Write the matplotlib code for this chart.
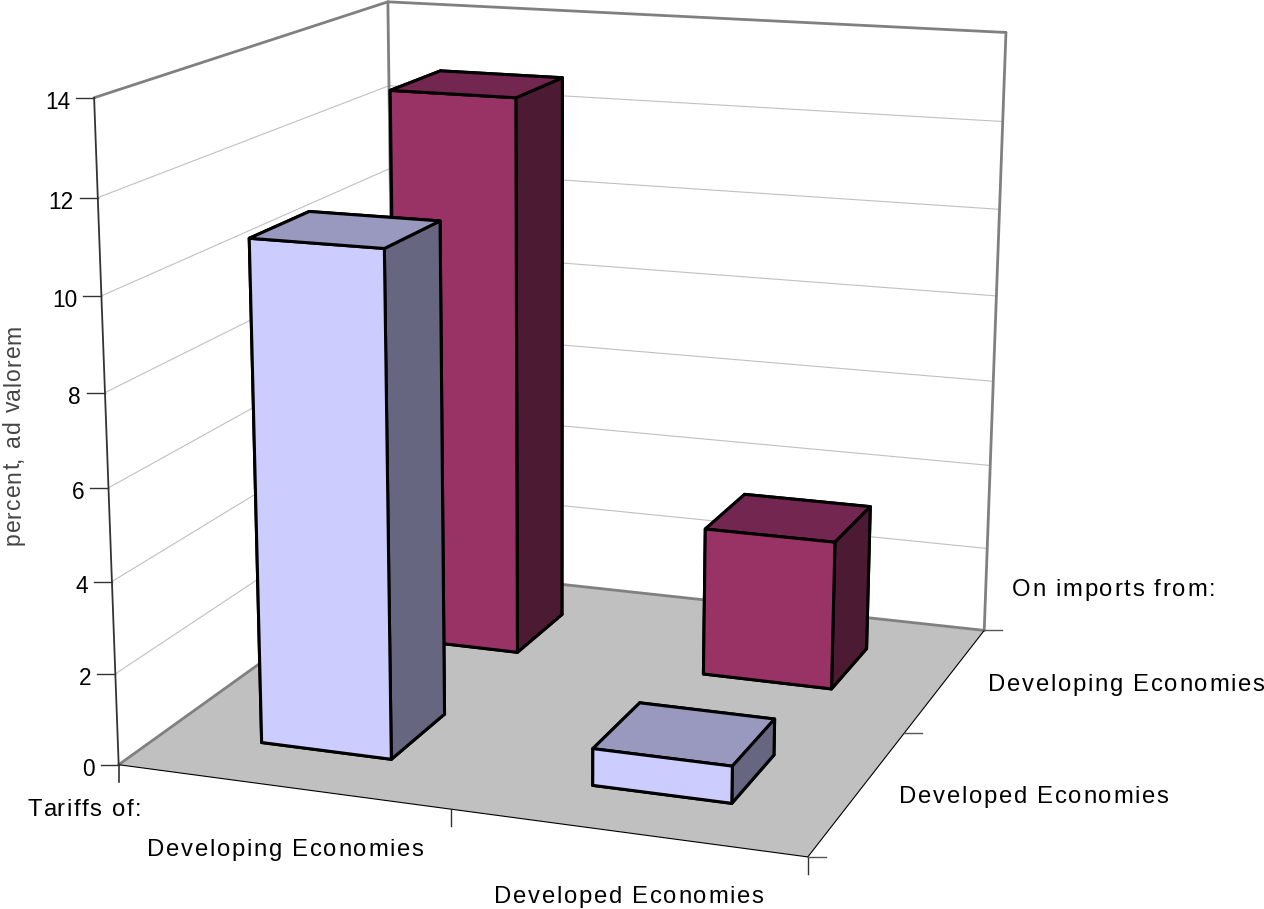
import matplotlib
matplotlib.use("Agg")
import matplotlib.pyplot as plt
import numpy as np
from matplotlib.lines import Line2D
from matplotlib.text import Text
from mpl_toolkits.mplot3d.art3d import Line3DCollection, Poly3DCollection

W, H = 1264, 909

# tariffs, percent ad valorem
tariffCategories = ["Developing Economies", "Developed Economies"]
importCategories = ["Developed Economies", "Developing Economies"]
fromDeveloped = [10.9, 0.8]
fromDeveloping = [12.8, 3.4]
zTicks = [0, 2, 4, 6, 8, 10, 12, 14]

plt.rcParams['font.family'] = ['Liberation Sans', 'DejaVu Sans']

fig = plt.figure(figsize=(W / 100, H / 100), dpi=100)
ax = fig.add_axes([0, 0, 1, 1], projection='3d', computed_zorder=False)
ax.set_axis_off()
ax.apply_aspect()

# the chart's camera, fitted on where the box corners sit in the picture
boxPoints = [(0, 0, 0), (2, 0, 0), (2, 2, 0), (0, 2, 0), (0, 0, 14), (0, 2, 14), (2, 2, 14),
             (1, 0, 0), (2, 1, 0), (0, 0, 12), (0, 0, 2), (2, 2, 12), (2, 2, 2)]
boxPixels = [(120, 765), (807, 857), (986, 630), (393, 566), (93, 98), (390, 2), (1006, 32),
             (451, 809), (905, 733), (97, 197), (116, 674), (1002, 122), (986, 549)]


def fitCamera(points, pixels):
    rows, rhs = [], []
    for (x, y, z), (u, v) in zip(points, pixels):
        rows.append([x, y, z, 1, 0, 0, 0, 0, -u * x, -u * y, -u * z])
        rhs.append(u)
        rows.append([0, 0, 0, 0, x, y, z, 1, -v * x, -v * y, -v * z])
        rhs.append(v)
    h = np.linalg.lstsq(np.array(rows, float), np.array(rhs, float), rcond=None)[0]
    return np.append(h, 1).reshape(3, 4)


camera = fitCamera(boxPoints, boxPixels)


def toPixel(x, y, z):
    p = camera @ np.array([x, y, z, 1.0])
    return p[0] / p[2], p[1] / p[2]


flip = np.array([[1, 0, 0], [0, -1, H], [0, 0, 1.0]])
view = ax.transData.inverted().get_matrix() @ flip @ camera
proj = np.vstack([view[0], view[1], view[2] + np.array([0, 0, 0, -0.5]), view[2]])
ax.get_proj = lambda: proj


class TrackedText(Text):
    # one text, drawn with a few extra pixels between the letters
    def __init__(self, *args, tracking=0, **kw):
        super().__init__(*args, **kw)
        self.tracking = tracking

    def draw(self, renderer):
        s = self.get_text()
        fp = self.get_fontproperties()
        x, y = self.get_transform().transform(self.get_position())
        y = renderer.get_canvas_width_height()[1] - y
        angle = self.get_rotation()
        gc = renderer.new_gc()
        gc.set_foreground(self.get_color())
        for i, ch in enumerate(s):
            adv = renderer.get_text_width_height_descent(s[:i], fp, False)[0] + i * self.tracking if i else 0
            if angle == 90:
                renderer.draw_text(gc, x, y - adv, ch, fp, 90, False)
            else:
                renderer.draw_text(gc, x + adv, y, ch, fp, 0, False)
        gc.restore()


def segments3(points, color, lw, zorder):
    segs = [[points[i], points[i + 1]] for i in range(len(points) - 1)]
    ax.add_collection3d(Line3DCollection(segs, colors=color, linewidths=lw, zorder=zorder, clip_on=False,
                                         capstyle='round'))


def pixelLine(xs, ys, color='#333333', lw=1.0):
    fig.add_artist(Line2D(np.array(xs) / W, 1 - np.array(ys) / H, color=color, lw=lw))


def label(x, baseline, s, size=17.2, tracking=1.7, color='black', rotation=0):
    fig.add_artist(TrackedText(x / W, 1 - baseline / H, s, tracking=tracking, fontsize=size, color=color,
                               rotation=rotation, transform=fig.transFigure))


# gridlines on the two walls
for z in zTicks[1:-1]:
    segments3([(0, 0, z), (0, 2, z), (2, 2, z)], '#c0c0c0', 0.8, 1)

# floor
floor = Poly3DCollection([[(0, 0, 0), (2, 0, 0), (2, 2, 0), (0, 2, 0)]], facecolor='#c0c0c0',
                         edgecolor='none', clip_on=False, zorder=2)
ax.add_collection3d(floor)

# wall outline
segments3([(0, 0, 14), (0, 2, 14), (2, 2, 14), (2, 2, 0), (0, 2, 0), (0, 0, 0)], '#808080', 2.0, 3)
segments3([(0, 2, 0), (0, 2, 14)], '#808080', 2.0, 3)
segments3([(0, 0, 0), (2, 0, 0), (2, 2, 0)], 'black', 0.8, 3)
segments3([(0, 0, 0), (0, 0, 14)], '#333333', 1.3, 3)

# bars, back row first
barW = 0.4
barColors = {'light': ['#ccccff', '#9999bf', '#ccccff', '#ccccff', '#666680', '#666680'],
             'dark': ['#993366', '#732650', '#993366', '#993366', '#4d1a33', '#4d1a33']}
order = 4
for row, values, name in [(1, fromDeveloping, 'dark'), (0, fromDeveloped, 'light')]:
    for col, val in enumerate(values):
        ax.bar3d(col + 0.5 - barW / 2, row + 0.5 - barW / 2, 0, barW, barW, val, color=barColors[name],
                 edgecolor='black', linewidth=2.2, shade=False, clip_on=False, zorder=order)
        order += 1

# value axis ticks and labels
for z in zTicks:
    px, py = toPixel(0, 0, z)
    pixelLine([px - 18, px], [py, py])
    fig.text((px - 24) / W, 1 - (py + 11) / H, str(z), ha='right', va='baseline', fontsize=16.3, color='black')

# category axis ticks
x0, y0 = toPixel(0, 0, 0)
pixelLine([x0, x0], [y0, y0 + 17], lw=1.2)
for c in [1, 2]:
    px, py = toPixel(c, 0, 0)
    pixelLine([px, px], [py, py + 17])
for c in [0, 1, 2]:
    px, py = toPixel(2, c, 0)
    pixelLine([px, px + 18], [py, py], color='#555555')

# labels
label(28, 816, "Tariffs of:")
label(147, 856, tariffCategories[0])
label(494, 903, tariffCategories[1])
label(1012, 596, "On imports from:")
label(988, 691, importCategories[1])
label(899, 803, importCategories[0])
label(20, 545, "percent, ad valorem", size=16.5, tracking=1.0, color='#444444', rotation=90)

fig.savefig("out.png", dpi=100)
